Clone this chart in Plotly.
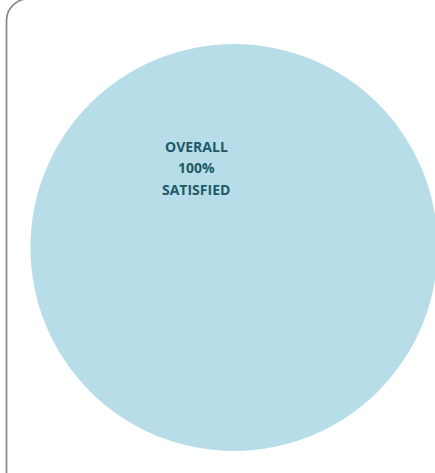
import plotly.graph_objects as go

# Data
categories = ["Satisfied"]
values = [100]
label_lines = ["OVERALL", "100%", "SATISFIED"]

W, H = 445, 473  # figure slightly wider than the window; the pie is clipped at the right edge


def px_x(p):
    return p / W


def px_y(p):
    return 1 - p / H


fig = go.Figure(
    go.Pie(
        labels=categories,
        values=values,
        sort=False,
        textinfo="none",
        hoverinfo="skip",
        marker=dict(colors=["#B7DEE8"], line=dict(width=0)),
        domain=dict(x=[px_x(30.5), px_x(437.5)], y=[px_y(451), px_y(44)]),
        showlegend=False,
    )
)

# rounded border (decoration), top edge sits just above the window
bx, top, rad, k = 6.5, -1.2, 22, 0.5523
border = (
    f"M {px_x(bx)},{px_y(500)} L {px_x(bx)},{px_y(top + rad)} "
    f"C {px_x(bx)},{px_y(top + rad - rad * k)} {px_x(bx + rad - rad * k)},{px_y(top)} "
    f"{px_x(bx + rad)},{px_y(top)} L {px_x(480)},{px_y(top)}"
)
fig.add_shape(type="path", xref="paper", yref="paper", path=border,
              line=dict(color="#8A8A8A", width=1.75))

line_y = [146.5, 167.5, 189]
for txt, yy in zip(label_lines, line_y):
    fig.add_annotation(
        text=f"<b>{txt}</b>", x=px_x(196), y=px_y(yy), xref="paper", yref="paper",
        showarrow=False, xanchor="center", yanchor="middle",
        font=dict(family="Open Sans", size=14, color="#215968"),
    )

fig.update_layout(
    width=W, height=H,
    margin=dict(l=0, r=0, t=0, b=0),
    paper_bgcolor="white", plot_bgcolor="white",
)

fig.write_html(
    "out.html",
    config={"displayModeBar": False},
    post_script="document.body.style.margin='0';document.body.style.overflow='hidden';document.documentElement.style.overflow='hidden';",
)
